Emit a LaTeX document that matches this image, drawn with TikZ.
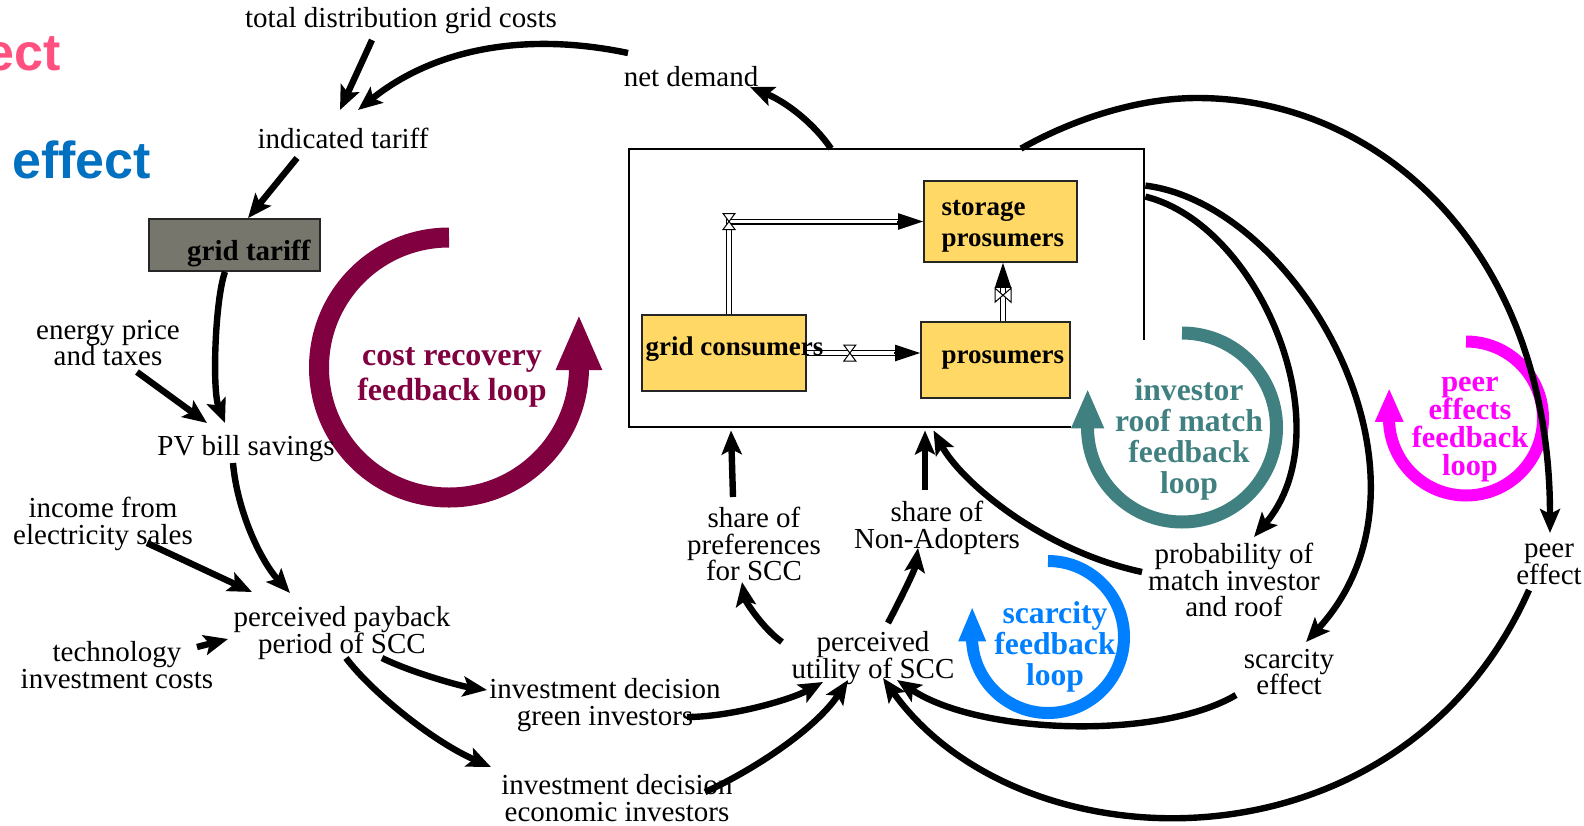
\documentclass[tikz,border=0pt]{standalone}
\usepackage{fontspec}
\setmainfont{Liberation Serif}
\newfontfamily\headsans{Liberation Sans}
\usetikzlibrary{arrows.meta,calc}
\lineskiplimit=-20pt
\definecolor{costc}{RGB}{128,0,64}
\definecolor{roofc}{RGB}{64,128,128}
\definecolor{peerc}{RGB}{255,0,255}
\definecolor{scarc}{RGB}{0,128,255}
\definecolor{pinkt}{RGB}{255,80,128}
\definecolor{bluet}{RGB}{0,112,192}
\definecolor{stockc}{RGB}{255,216,102}
\definecolor{tariffc}{RGB}{118,118,108}
\tikzset{
  txt/.style={align=center, inner sep=0pt, font=\fontsize{14.5}{13.3}\selectfont},
  link/.style={line width=3.2pt, -{Stealth[length=12pt,width=10pt,inset=2.5pt]}},
  stockbox/.style={draw=black!85, fill=stockc, line width=0.8pt, inner sep=0pt},
  stocklbl/.style={inner sep=0pt, align=left, font=\fontsize{13.5}{15.5}\selectfont\bfseries},
  pipe/.style={draw=black, line width=0.6pt, double=white, double distance=1.8pt},
  flowhead/.style={line width=1pt, -{Triangle[length=12.5pt,width=8pt]}},
  costloop/.style={draw=costc, line width=10pt, -{Triangle[length=28pt,width=21pt]}},
  roofloop/.style={draw=roofc, line width=6.5pt, -{Triangle[length=20pt,width=15pt]}},
  peerloop/.style={draw=peerc, line width=6pt, -{Triangle[length=17pt,width=13pt]}},
  scarloop/.style={draw=scarc, line width=6pt, -{Triangle[length=17.5pt,width=12.5pt]}},
  hglass/.pic={\draw[fill=white, line width=0.5pt] (-6,-8) -- (6,-8) -- (-6,8) -- (6,8) -- cycle;},
  bowtie/.pic={\draw[fill=white, line width=0.5pt] (-8,-7) -- (-8,7) -- (8,-7) -- (8,7) -- cycle;}
}
\begin{document}
\begin{tikzpicture}[x=0.5pt, y=-0.5pt]
\useasboundingbox (0,0) rectangle (1584,825);

% headings in the upper left corner
\begin{scope}
  \clip (0,0) rectangle (1584,825);
  \node[anchor=base east, inner sep=0pt, text=pinkt, font=\headsans\fontsize{26}{26}\selectfont\bfseries] (hpink) at (61,70) {ect};
  \node[anchor=base west, inner sep=0pt, text=bluet, font=\headsans\fontsize{26}{26}\selectfont\bfseries] (hblue) at (12,178) {effect};
\end{scope}

% feedback loop markers
\draw[costloop] (449,237.5) arc[start angle=-90, end angle=-358, radius=130] -- ++(0,-58);
\draw[roofloop] (1182,333) arc[start angle=-90, end angle=177, radius=94.5] -- ++(0,-44);
\draw[peerloop] (1466,341.5) arc[start angle=-90, end angle=176, radius=77] -- ++(0,-36);
\draw[scarloop] (1048,561) arc[start angle=-90, end angle=176, radius=76] -- ++(0,-36);

\node[align=center, inner sep=0pt, text=costc, font=\fontsize{16}{17.5}\selectfont\bfseries] (lcost) at (452,377) {cost recovery\\feedback loop};
\node[align=center, inner sep=0pt, text=roofc, font=\fontsize{15.8}{15.5}\selectfont\bfseries] (lroof) at (1189,439) {investor\\roof match\\feedback\\loop};
\node[align=center, inner sep=0pt, text=peerc, font=\fontsize{15.2}{14}\selectfont\bfseries] (lpeer) at (1470,430) {peer\\effects\\feedback\\loop};
\node[align=center, inner sep=0pt, text=scarc, font=\fontsize{15.8}{15.5}\selectfont\bfseries] (lscar) at (1055,647) {scarcity\\feedback\\loop};

% stock and flow sector
\node[minimum width=257.5pt, minimum height=139pt, inner sep=0pt] (sys) at (886.5,288) {};
\draw[line width=1pt] ($(sys.south west)+(442,0)$) -- (sys.south west) -- (sys.north west) -- (sys.north east) -- ($(sys.north east)+(0,191)$);

\node[stockbox, minimum width=82pt, minimum height=38pt] (gc) at (724,353) {};
\node[stockbox, minimum width=76.5pt, minimum height=40.5pt] (stp) at (1000.5,221.5) {};
\node[stockbox, minimum width=74.5pt, minimum height=38pt] (pr) at (995.5,360) {};

\path ($(gc.north)+(5,0)$) coordinate (f1a);
\draw[pipe] (f1a) |- ($(stp.west)+(-24,0)$);
\draw[flowhead] ($(stp.west)+(-26,0)$) -- (stp.west);
\draw[pipe] (gc.east) -- ($(gc.east -| pr.west)+(-24,0)$);
\draw[flowhead] ($(gc.east -| pr.west)+(-26,0)$) -- (gc.east -| pr.west);
\draw[pipe] ($(pr.north)+(7.5,0)$) -- ($(pr.north)+(7.5,-35)$);
\draw[flowhead] ($(pr.north)+(7.5,-34)$) -- ($(stp.south)+(2.5,0)$);
\pic at (f1a |- stp.west) {hglass};
\pic at ($(gc.east)+(43,0)$) {hglass};
\pic at ($(pr.north)+(7.5,-26)$) {bowtie};

\node[stocklbl, anchor=base west] (gcl) at ($(gc.west)+(4,2)$) {grid consumers};
\node[stocklbl, anchor=west] (stpl) at ($(stp.west)+(18,4.5)$) {storage\\prosumers};
\node[stocklbl, anchor=base west] (prl) at ($(pr.west)+(21,3)$) {prosumers};

% grid tariff box
\node[draw=black!85, fill=tariffc, line width=0.8pt, minimum width=85.5pt, minimum height=26pt, inner sep=0pt] (gt) at (234.5,245) {};
\node[anchor=base east, inner sep=0pt, font=\fontsize{14.5}{14.5}\selectfont\bfseries] (gtl) at ($(gt.south east)+(-10,-11)$) {grid tariff};

% variables
\node[txt] (tdc) at (401,21) {total distribution grid costs};
\node[txt] (nd) at (691,77) {net demand};
\node[txt] (it) at (343,138) {indicated tariff};
\node[txt] (ep) at (108,343) {energy price\\and taxes};
\node[txt] (pv) at (246,449) {PV bill savings};
\node[txt] (inc) at (103,524) {income from\\electricity sales};
\node[txt] (pp) at (342,633) {perceived payback\\period of SCC};
\node[txt] (tech) at (117,665) {technology\\investment costs};
\node[txt] (ig) at (605,705) {investment decision\\green investors};
\node[txt] (ie) at (617,798) {investment decision\\economic investors};
\node[txt] (ut) at (873,658) {perceived\\utility of SCC};
\node[txt] (sp) at (754,544) {share of\\preferences\\for SCC};
\node[txt] (sn) at (937,528) {share of\\Non-Adopters};
\node[txt] (pm) at (1234,580) {probability of\\match investor\\and roof};
\node[txt] (se) at (1289,672) {scarcity\\effect};
\node[txt] (pe) at (1549,564) {peer\\effect};

% causal links
\draw[link] ($(tdc)+(-29,19)$) -- ($(it)+(-3,-28)$);
\draw[link] ($(nd)+(-63,-24)$) .. controls (522.7,31) and (432.7,50) .. ($(it)+(15,-28)$);
\draw[link] ($(sys.north)+(-55.5,0)$) .. controls (813.7,123.3) and (786.7,102.3) .. ($(nd)+(59,10)$);
\draw[link] ($(sys.north)+(134.5,0)$) .. controls (1075,118) and (1140,98) .. (1197,98)
            .. controls (1380,98) and (1550,250) .. ($(pe)+(1,-31)$);
\draw[link] ($(sys.north east)+(1,48)$) .. controls (1260,225) and (1345,430) .. ($(pm)+(20,-43)$);
\draw[link] ($(sys.north east)+(1,37)$) .. controls (1300,205) and (1455,480) .. ($(se)+(17,-30)$);
\draw[link] ($(pm)+(-92,-8)$) .. controls (1040,550) and (960,480) .. ($(sys.south)+(47,3)$);
\draw[link] ($(sn)+(-12,-38)$) -- ($(sys.south)+(38.5,3)$);
\draw[link] ($(sp)+(-21,-47)$) -- ($(sys.south)+(-155.5,3)$);
\draw[link] ($(ut)+(-91,-16)$) .. controls (762,628) and (745,600) .. ($(sp)+(-12,38)$);
\draw[link] ($(ut)+(15,-35)$) .. controls (900,600) and (915,570) .. ($(sn)+(-19,20)$);
\draw[link] ($(ig)+(82,12)$) .. controls (730,717) and (790,700) .. ($(ut)+(-50,24)$);
\draw[link] ($(ie)+(88,-6)$) .. controls (750,772) and (815,730) .. ($(ut)+(-25,22)$);
\draw[link] ($(se)+(-53,23)$) .. controls (1160,740) and (980,735) .. ($(ut)+(24,22)$);
\draw[link] ($(pe)+(-20,26)$) .. controls (1400,880) and (1020,870) .. ($(ut)+(10,20)$);
\draw[link] ($(pv)+(-13,14)$) .. controls (237,510) and (260,560) .. ($(pp)+(-52,-40)$);
\draw[link] ($(inc)+(44,19)$) -- ($(pp)+(-90,-41)$);
\draw[link] ($(tech)+(80,-18)$) -- ($(pp)+(-114,6)$);
\draw[link] ($(ep)+(29,29)$) -- ($(pv)+(-39,-26)$);
\draw[link] ($(gt.south)+(-9.5,0)$) .. controls (215,300) and (212,390) .. ($(pv)+(-21,-26)$);
\draw[link] ($(it)+(-46,20)$) -- ($(gt.north)+(13.5,0)$);
\draw[link] ($(pp)+(40,25)$) .. controls (410,672) and (460,686) .. ($(ig)+(-118,-15)$);
\draw[link] ($(pp)+(4,25)$) .. controls (370,690) and (430,740) .. ($(ie)+(-126,-31)$);
\end{tikzpicture}
\end{document}
